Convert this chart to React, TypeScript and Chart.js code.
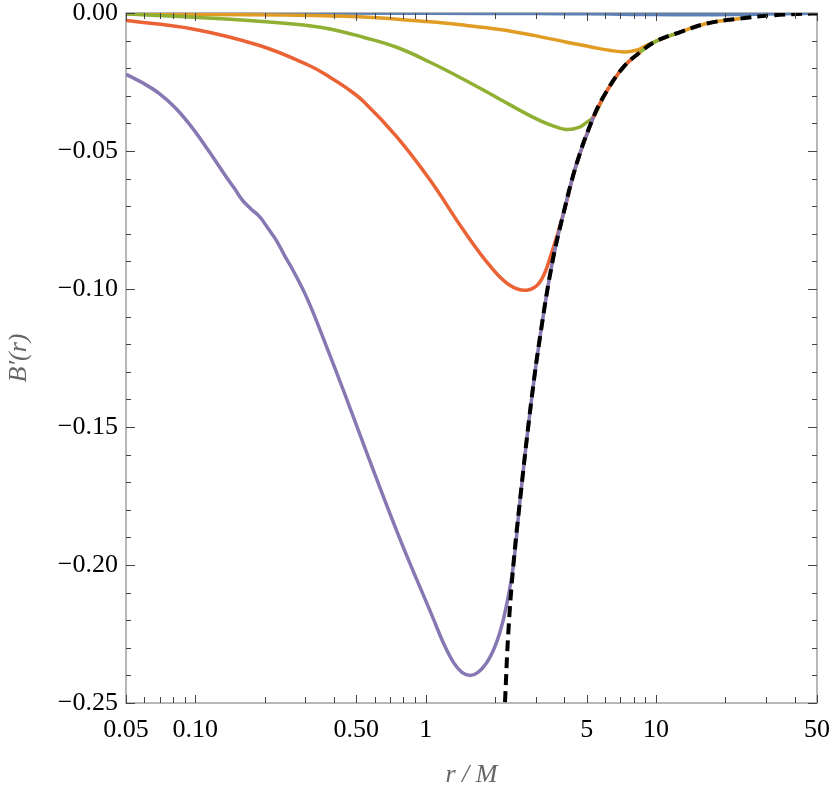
import { useEffect, useRef } from "react";
import { Chart, registerables } from "chart.js";

Chart.register(...registerables);

// ---- Data ----
const purpleR = [0.05, 0.059, 0.0698, 0.0824, 0.0974, 0.115, 0.136, 0.1477, 0.16, 0.1745, 0.19, 0.206, 0.224, 0.2434, 0.265, 0.306, 0.369, 0.443, 0.555, 0.775, 1.08, 1.19, 1.32, 1.438, 1.56, 1.688, 1.84, 1.966, 2.1, 2.233, 2.4, 2.57, 2.88, 3.17, 3.55, 3.96, 4.53, 5.35];
const purpleB = [-0.0222, -0.0253, -0.0292, -0.0346, -0.0418, -0.0503, -0.0593, -0.0635, -0.0678, -0.071, -0.0738, -0.0778, -0.0822, -0.0877, -0.0931, -0.1035, -0.1203, -0.1375, -0.1594, -0.1908, -0.2195, -0.228, -0.2353, -0.2389, -0.24, -0.2389, -0.2354, -0.231, -0.2245, -0.2154, -0.2005, -0.1763, -0.1401, -0.1148, -0.0902, -0.0728, -0.0544, -0.0377];

const redR = [0.05, 0.0974, 0.19, 0.312, 0.384, 0.451, 0.536, 0.748, 1.045, 1.458, 1.904, 2.32, 2.75, 3.14, 3.52, 3.96, 4.53, 5.35, 6.11, 7.22, 8.53];
const redB = [-0.00275, -0.00579, -0.01179, -0.01903, -0.02326, -0.02706, -0.03195, -0.04479, -0.06053, -0.07862, -0.09164, -0.09863, -0.10043, -0.0974, -0.087, -0.0728, -0.0544, -0.0377, -0.0283, -0.0196, -0.0142];

const greenR = [0.05, 0.136, 0.265, 0.384, 0.536, 0.748, 1.045, 1.458, 2.062, 2.888, 3.45, 4.06, 4.63, 5.03, 5.35, 6.11, 7.22, 8.53, 10.07, 12.73];
const greenB = [-0.00036, -0.00217, -0.00398, -0.00579, -0.00879, -0.01241, -0.01784, -0.02399, -0.03086, -0.03755, -0.04045, -0.04219, -0.04146, -0.03944, -0.0377, -0.0283, -0.0196, -0.0142, -0.0101, -0.0069];

const orangeR = [0.05, 0.45, 1.045, 1.5, 2.1, 2.94, 4.06, 5.7, 7.22, 8.2, 9.1, 10.07, 12.73, 16.6, 23.2];
const orangeB = [-0.0004, -0.0012, -0.0032, -0.0045, -0.006, -0.0081, -0.0105, -0.0129, -0.0141, -0.0135, -0.0117, -0.0101, -0.0069, -0.0038, -0.002];

const blueR = [0.05, 1, 3, 5, 8, 12, 18, 25, 35, 50];
const blueB = [0, -0.0001, -0.0002, -0.0003, -0.0005, -0.0006, -0.0006, -0.0005, -0.0003, -0.0001];

const dashedR = [2.21, 2.285, 2.4, 2.57, 2.88, 3.17, 3.55, 3.96, 4.53, 5.35, 6.11, 7.22, 8.53, 10.07, 12.73, 16.6, 23.2, 32.4, 47, 50];
const dashedB = [-0.2497, -0.2244, -0.2005, -0.1763, -0.1401, -0.1148, -0.0902, -0.0728, -0.0544, -0.0377, -0.0283, -0.0196, -0.0142, -0.0101, -0.0069, -0.0038, -0.002, -0.0008, -0.0002, -0.0002];

// ---- Ticks ----
const xMajorTicks = [0.05, 0.1, 0.5, 1, 5, 10, 50];
const xTickLabels = ["0.05", "0.10", "0.50", "1", "5", "10", "50"];
const xMinorTicks = [0.06, 0.07, 0.08, 0.09, 0.2, 0.3, 0.4, 0.6, 0.7, 0.8, 0.9, 2, 3, 4, 6, 7, 8, 9, 20, 30, 40];

const yMajorTicks = [-0.25, -0.2, -0.15, -0.1, -0.05, 0];
const yTickLabels = ["\u22120.25", "\u22120.20", "\u22120.15", "\u22120.10", "\u22120.05", "0.00"];
const yMinorTicks = [-0.24, -0.23, -0.22, -0.21, -0.19, -0.18, -0.17, -0.16, -0.14, -0.13, -0.12, -0.11, -0.09, -0.08, -0.07, -0.06, -0.04, -0.03, -0.02, -0.01];

const toPoints = (r: number[], b: number[]) => r.map((v, i) => ({ x: v, y: b[i] }));

const framePlugin = {
  id: "frameTicks",
  beforeDatasetsDraw(chart: any) {
    const { ctx, chartArea } = chart;
    const { left, right, top, bottom } = chartArea;
    ctx.save();
    ctx.strokeStyle = "#a0a0a0";
    ctx.lineWidth = 1.5;
    ctx.strokeRect(left, top, right - left, bottom - top);
    ctx.restore();
  },
  afterDatasetsDraw(chart: any) {
    const { ctx, chartArea, scales } = chart;
    const { left, right, top, bottom } = chartArea;
    const xs = scales.x;
    const ys = scales.y;
    ctx.save();
    ctx.strokeStyle = "#444";
    ctx.lineWidth = 1;
    const line = (x1: number, y1: number, x2: number, y2: number) => {
      ctx.beginPath();
      ctx.moveTo(x1, y1);
      ctx.lineTo(x2, y2);
      ctx.stroke();
    };
    const xt = (v: number, len: number) => {
      const p = Math.round(xs.getPixelForValue(v)) + 0.5;
      line(p, bottom, p, bottom - len);
      line(p, top, p, top + len);
    };
    const yt = (v: number, len: number) => {
      const p = Math.round(ys.getPixelForValue(v)) + 0.5;
      line(left, p, left + len, p);
      line(right, p, right - len, p);
    };
    xMajorTicks.forEach((v) => xt(v, 8));
    xMinorTicks.forEach((v) => xt(v, 6));
    yMajorTicks.forEach((v) => yt(v, 9));
    yMinorTicks.forEach((v) => yt(v, 5));
    ctx.restore();
  },
};

export default function App() {
  const ref = useRef<HTMLCanvasElement | null>(null);
  useEffect(() => {
    if (!ref.current) return;
    const serif = "'Liberation Serif', 'Times New Roman', serif";
    const ds = (label: string, r: number[], b: number[], color: string, width: number, dash?: number[]) => ({
      label,
      data: toPoints(r, b),
      borderColor: color,
      backgroundColor: color,
      borderWidth: width,
      borderDash: dash || [],
      pointRadius: 0,
      fill: false,
      tension: 0.4,
      borderCapStyle: "butt" as const,
      borderJoinStyle: "round" as const,
    });
    const chart = new Chart(ref.current, {
      type: "line",
      data: {
        datasets: [
          ds("asymptotic", dashedR, dashedB, "#000000", 4, [11, 6]),
          ds("purple", purpleR, purpleB, "#8778B3", 3.5),
          ds("red", redR, redB, "#EB6235", 3.5),
          ds("green", greenR, greenB, "#8FB032", 3.5),
          ds("orange", orangeR, orangeB, "#E19C24", 3.5),
          ds("blue", blueR, blueB, "#5E81B5", 3.5),
        ],
      },
      options: {
        animation: false,
        responsive: false,
        devicePixelRatio: 1,
        layout: { padding: { top: 13, right: 13, left: 0, bottom: 0 } },
        plugins: { legend: { display: false }, tooltip: { enabled: false } },
        scales: {
          x: {
            type: "logarithmic",
            min: 0.05,
            max: 50,
            afterBuildTicks: (s: any) => {
              s.ticks = xMajorTicks.map((v) => ({ value: v }));
            },
            afterFit: (s: any) => {
              s.height = 92;
              s.paddingLeft = 0;
              s.paddingRight = 0;
            },
            ticks: {
              autoSkip: false,
              maxRotation: 0,
              padding: 12,
              color: "#000",
              font: { family: serif, size: 26 },
              callback: (_v: any, i: number) => xTickLabels[i],
            },
            grid: { display: false, drawTicks: false },
            border: { display: false },
            title: {
              display: true,
              text: "r / M",
              color: "#666",
              font: { family: serif, size: 26, style: "italic" },
              padding: { top: 4, bottom: 4 },
            },
          },
          y: {
            type: "linear",
            min: -0.25,
            max: 0,
            afterBuildTicks: (s: any) => {
              s.ticks = yMajorTicks.map((v) => ({ value: v }));
            },
            afterFit: (s: any) => {
              s.width = 126;
              s.paddingTop = 0;
              s.paddingBottom = 0;
            },
            ticks: {
              autoSkip: false,
              padding: 8,
              color: "#000",
              font: { family: serif, size: 26 },
              callback: (_v: any, i: number) => yTickLabels[i],
            },
            grid: { display: false, drawTicks: false },
            border: { display: false },
            title: {
              display: true,
              text: "B\u2032(r)",
              color: "#666",
              font: { family: serif, size: 26, style: "italic" },
              padding: { top: 4, bottom: 4 },
            },
          },
        },
      },
      plugins: [framePlugin],
    } as any);
    return () => chart.destroy();
  }, []);
  return (
    <div style={{ position: "fixed", left: 0, top: 0, width: 830, height: 795, background: "#fff" }}>
      <canvas ref={ref} width={830} height={795} style={{ width: 830, height: 795, display: "block" }} />
    </div>
  );
}
